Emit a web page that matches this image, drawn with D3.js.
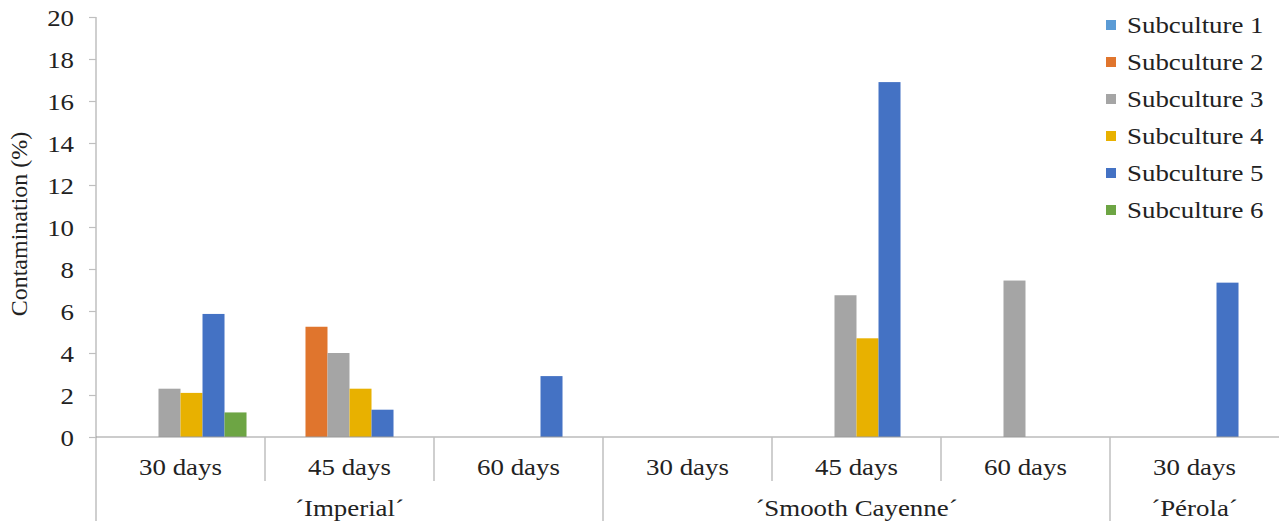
<!DOCTYPE html>
<html>
<head>
<meta charset="utf-8">
<script src="https://cdn.jsdelivr.net/npm/d3@7"></script>
<style>
  html, body { margin: 0; padding: 0; background: #fff; }
  svg { display: block; }
  svg text { font-family: "Liberation Serif", "DejaVu Serif", "Times New Roman", serif !important; fill: #222; }
</style>
</head>
<body>
<svg id="chart" width="1279" height="521" font-family="Liberation Serif, DejaVu Serif, serif"></svg>
<script>
// ---- data ----
const groups = ["´Imperial´", "´Smooth Cayenne´", "´Pérola´"];
const categories = [
  {group: "´Imperial´", label: "30 days"},
  {group: "´Imperial´", label: "45 days"},
  {group: "´Imperial´", label: "60 days"},
  {group: "´Smooth Cayenne´", label: "30 days"},
  {group: "´Smooth Cayenne´", label: "45 days"},
  {group: "´Smooth Cayenne´", label: "60 days"},
  {group: "´Pérola´", label: "30 days"}
];
const seriesNames = ["Subculture 1", "Subculture 2", "Subculture 3", "Subculture 4", "Subculture 5", "Subculture 6"];
const seriesColors = ["#5B9BD5", "#E0752D", "#A5A5A5", "#E8B100", "#4472C4", "#6DA544"];
// values per series, one per category
const subculture1 = [0, 0, 0, 0, 0, 0, 0];
const subculture2 = [0, 5.25, 0, 0, 0, 0, 0];
const subculture3 = [2.3, 4.0, 0, 0, 6.75, 7.45, 0];
const subculture4 = [2.1, 2.3, 0, 0, 4.7, 0, 0];
const subculture5 = [5.86, 1.3, 2.9, 0, 16.9, 0, 7.35];
const subculture6 = [1.17, 0, 0, 0, 0, 0, 0];
const seriesValues = [subculture1, subculture2, subculture3, subculture4, subculture5, subculture6];
const yTicks = [0, 2, 4, 6, 8, 10, 12, 14, 16, 18, 20];
const yLabel = "Contamination (%)";

// ---- layout ----
const svg = d3.select("#chart");
const mLeft = 96, mRight = 1279, mTop = 17, mBottom = 437;
const SX = 1.12; // horizontal stretch of text in the reference
const axisColor = "#BFBFBF";
const FONT = "'Liberation Serif', 'DejaVu Serif', serif";

const x = d3.scaleBand().domain(d3.range(categories.length)).range([mLeft, mRight]).paddingInner(0).paddingOuter(0);
const xs = d3.scaleBand().domain(d3.range(seriesNames.length)).range([0, x.bandwidth()]).paddingInner(0).paddingOuter(0.84);
const y = d3.scaleLinear().domain([0, 20]).range([mBottom, mTop]);

// y axis
const yAxis = d3.axisLeft(y).tickValues(yTicks).tickSize(7).tickPadding(0).tickFormat(d3.format("d"));
const yg = svg.append("g").attr("transform", `translate(${mLeft},0)`).call(yAxis);
yg.attr("font-family", null).attr("font-size", null);
yg.select(".domain").remove();
yg.selectAll(".tick line").attr("stroke", axisColor).attr("stroke-width", 1.2);
yg.selectAll(".tick text").remove();
yg.selectAll(".tick").append("text")
  .attr("transform", `translate(-22,0) scale(${SX},1)`)
  .attr("text-anchor", "end").attr("dy", "0.35em")
  .style("font-family", FONT).style("font-size", "24px").style("fill", "#222")
  .text(d => d);

// y axis line (full height)
svg.append("line").attr("x1", mLeft).attr("x2", mLeft).attr("y1", mTop).attr("y2", 521)
  .attr("stroke", axisColor).attr("stroke-width", 1.5);

// bars
categories.forEach((c, ci) => {
  seriesValues.forEach((vals, si) => {
    const v = vals[ci];
    if (v > 0) {
      svg.append("rect")
        .attr("x", x(ci) + xs(si))
        .attr("y", y(v))
        .attr("width", xs.bandwidth())
        .attr("height", y(0) - y(v))
        .attr("fill", seriesColors[si]);
    }
  });
});

// x baseline
svg.append("line").attr("x1", mLeft).attr("x2", mRight).attr("y1", y(0)).attr("y2", y(0))
  .attr("stroke", "#999").attr("stroke-width", 1.2);

// category separators and labels
categories.forEach((c, ci) => {
  const xb = x(ci);
  const isGroupStart = ci === 0 || categories[ci - 1].group !== c.group;
  if (ci > 0) {
    svg.append("line").attr("x1", xb).attr("x2", xb)
      .attr("y1", y(0)).attr("y2", isGroupStart ? 521 : 481)
      .attr("stroke", axisColor).attr("stroke-width", 1.5);
  }
  svg.append("text")
    .attr("transform", `translate(${xb + x.bandwidth() / 2},475) scale(${SX},1)`)
    .attr("text-anchor", "middle").style("font-family", FONT).style("font-size", "24px")
    .text(c.label);
});

// group labels
groups.forEach(g => {
  const idx = categories.map((c, i) => c.group === g ? i : -1).filter(i => i >= 0);
  const x0 = x(idx[0]), x1 = x(idx[idx.length - 1]) + x.bandwidth();
  svg.append("text")
    .attr("transform", `translate(${(x0 + x1) / 2},516) scale(${SX},1)`)
    .attr("text-anchor", "middle").style("font-family", FONT).style("font-size", "24px")
    .text(g);
});

// y label
svg.append("text")
  .attr("transform", `translate(27,224) rotate(-90)`)
  .attr("text-anchor", "middle").style("font-family", FONT).style("font-size", "24px")
  .text(yLabel);

// legend
const lg = svg.append("g");
seriesNames.forEach((s, i) => {
  const cy = 25 + 37 * i;
  lg.append("rect").attr("x", 1106).attr("y", cy - 5).attr("width", 10).attr("height", 10).attr("fill", seriesColors[i]);
  lg.append("text")
    .attr("transform", `translate(1127,${cy}) scale(${SX},1)`)
    .attr("dy", "0.35em").style("font-family", FONT).style("font-size", "24px")
    .text(s);
});
</script>
</body>
</html>
